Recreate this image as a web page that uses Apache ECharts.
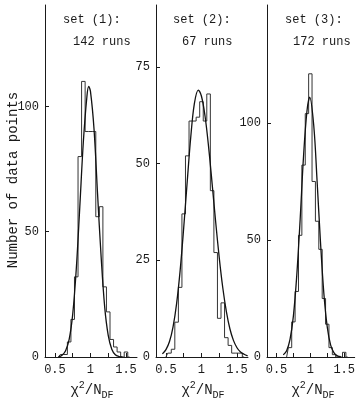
<!DOCTYPE html>
<html><head><meta charset="utf-8">
<script src="https://cdn.jsdelivr.net/npm/echarts@6/dist/echarts.min.js"></script>
<style>html,body{margin:0;padding:0;background:#fff}#c{width:358px;height:403px}</style>
</head><body><div id="c"></div>
<script>
// Histogram bin centres and counts (bin width 0.05)
const binCenters1 = [0.55,0.6,0.65,0.7,0.75,0.8,0.85,0.9,0.95,1.0,1.05,1.1,1.15,1.2,1.25,1.3,1.35,1.4,1.45,1.5,1.55];
const counts1     = [0,   1,  1,   6,  15,  32, 80, 110, 90, 90, 90, 56, 60, 28, 18, 7, 4, 2, 0, 2, 0];
const binCenters2 = [0.5,0.55,0.6,0.65,0.7,0.75,0.8,0.85,0.9,0.95,1.0,1.05,1.1,1.15,1.2,1.25,1.3,1.35,1.4,1.45,1.5,1.55,1.6];
const counts2     = [0,  1,   2,  9,   18, 37,  52, 61,  61, 62,  66, 61,  68, 43,  27, 10,  14, 5,   3,  1,   1,  1,   0];
const binCenters3 = [0.65,0.7,0.75,0.8,0.85,0.9,0.95,1.0,1.05,1.1,1.15,1.2,1.25,1.3,1.35,1.4,1.45,1.5,1.55];
const counts3     = [0,   4,  15,  28, 52,  82, 104, 121, 75, 58, 46,  25, 14,  4,  1,   0,  0,   2,  0];

// Fitted curves
const fitX1 = [0.55,0.6,0.65,0.7,0.75,0.8,0.85,0.9,0.95,0.975,1.0,1.05,1.1,1.15,1.2,1.25,1.3,1.35,1.4,1.45];
const fitY1 = [0.1, 0.7,2.5, 7,  17,  35, 60,  86, 104, 108,  106,91,  65, 40,  20, 8.6, 3.1,0.9, 0.2,0];
const fitX2 = [0.45,0.5,0.55,0.6,0.65,0.7,0.75,0.8,0.85,0.9,0.955,1.0,1.05,1.1,1.15,1.2,1.25,1.3,1.35,1.4,1.45,1.5,1.55,1.6,1.65];
const fitY2 = [0.8, 1.9,4,   7.8,13.8,22.4,33.4,45.5,57,65.5,69,  67.4,62.3,54.4,44.8,34.9,25.7,17.9,11.8,7.3,4.3,2.4,1.3,0.7,0.3];
const fitX3 = [0.6,0.65,0.7,0.75,0.8,0.85,0.9,0.95,0.99,1.05,1.1,1.15,1.2,1.25,1.3,1.35,1.4,1.45];
const fitY3 = [0.9,2.7, 7.5,17.6,35, 59,  86, 105, 111, 99,  75, 49,  27, 12.8,5.1,1.8, 0.5,0.1];

// Axis ticks / labels
const xTickValues = [0.5,0.75,1,1.25,1.5];
const xLabelValues = [0.5,1,1.5];
const yTicks1 = [0,50,100];
const yTicks2 = [0,25,50,75];
const yTicks3 = [0,50,100];
const yMax = [140.5, 91, 150.4];
const setLabels = ['set (1):','set (2):','set (3):'];
const runLabels = ['142 runs','67 runs','172 runs'];
const yTitle = 'Number of data points';

const FONT = '"Liberation Mono", monospace';
const INK = '#1a1a1a';
const chart = echarts.init(document.getElementById('c'), null, {renderer:'canvas'});

const lefts = [45, 156, 267];
const grids = lefts.map(l => ({left:l, top:5, width:92, height:352}));
const yTicksAll = [yTicks1, yTicks2, yTicks3];
const hist = [[binCenters1,counts1],[binCenters2,counts2],[binCenters3,counts3]];
const fits = [[fitX1,fitY1],[fitX2,fitY2],[fitX3,fitY3]];

const xAxis = lefts.map((l,i) => ({
  type:'value', gridIndex:i, min:0.36, max:1.655,
  axisLine:{show:true, onZero:false, lineStyle:{color:INK, width:1}},
  axisTick:{show:true, inside:true, length:4, customValues:xTickValues, lineStyle:{color:INK}},
  axisLabel:{show:true, customValues:xLabelValues, margin:7, color:INK, fontFamily:FONT, fontSize:12,
    formatter: v => String(v)},
  splitLine:{show:false}
}));
const yAxis = lefts.map((l,i) => ({
  type:'value', gridIndex:i, min:0, max:yMax[i],
  axisLine:{show:true, lineStyle:{color:INK, width:1}},
  axisTick:{show:true, inside:true, length:4, customValues:yTicksAll[i], lineStyle:{color:INK}},
  axisLabel:{show:true, customValues:yTicksAll[i], margin:6, color:INK, fontFamily:FONT, fontSize:12},
  splitLine:{show:false}
}));
const series = [];
hist.forEach((h,i) => {
  series.push({type:'line', xAxisIndex:i, yAxisIndex:i, step:'middle', symbol:'none',
    data:h[0].map((x,j)=>[x,h[1][j]]), lineStyle:{color:'#333', width:1}, z:2, animation:false});
});
fits.forEach((f,i) => {
  series.push({type:'line', xAxisIndex:i, yAxisIndex:i, smooth:0.35, symbol:'none',
    data:f[0].map((x,j)=>[x,f[1][j]]), lineStyle:{color:'#111', width:1.3}, z:3, animation:false});
});

const graphic = [
  {type:'text', x:13, y:180, rotation:Math.PI/2,
   style:{text:yTitle, font:'14px '+FONT, fill:INK, textAlign:'center', textVerticalAlign:'middle'}}
];
const setPos = [[63,20],[173,20],[285,20]];
const runPos = [[73,42],[182,42],[293,42]];
setLabels.forEach((t,i)=>{
  graphic.push({type:'text', x:setPos[i][0], y:setPos[i][1], style:{text:t, font:'12px '+FONT, fill:INK, textVerticalAlign:'middle'}});
  graphic.push({type:'text', x:runPos[i][0], y:runPos[i][1], style:{text:runLabels[i], font:'12px '+FONT, fill:INK, textVerticalAlign:'middle'}});
});
const xtX = [92, 203, 313];
xtX.forEach(x=>{
  graphic.push({type:'text', x:x, y:390, style:{
    text:'{a|χ}{sup|2}{a|/N}{sub|DF}', textAlign:'center', textVerticalAlign:'middle',
    rich:{
      a:{fontFamily:FONT, fontSize:14, fill:INK, lineHeight:20},
      sup:{fontFamily:FONT, fontSize:10, fill:INK, lineHeight:10, verticalAlign:'top'},
      sub:{fontFamily:FONT, fontSize:10, fill:INK, lineHeight:10, verticalAlign:'bottom'}
    }}});
});

chart.setOption({
  animation:false,
  backgroundColor:'#fff',
  grid:grids, xAxis:xAxis, yAxis:yAxis, series:series, graphic:graphic
});
</script></body></html>
